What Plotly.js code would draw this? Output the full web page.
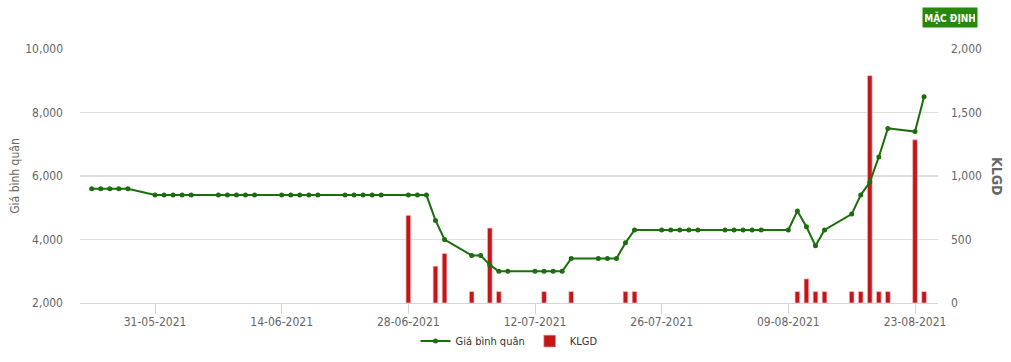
<!DOCTYPE html>
<html>
<head>
<meta charset="utf-8">
<script src="https://cdn.plot.ly/plotly-3.0.1.min.js"></script>
<style>
  html, body { margin: 0; padding: 0; background: #fff; }
  #chart { width: 1011px; height: 362px; }
</style>
</head>
<body>
<div id="chart"></div>
<script>
// ---- Data ----
const priceDates = [
  '2021-05-24','2021-05-25','2021-05-26','2021-05-27','2021-05-28',
  '2021-05-31','2021-06-01','2021-06-02','2021-06-03','2021-06-04',
  '2021-06-07','2021-06-08','2021-06-09','2021-06-10','2021-06-11',
  '2021-06-14','2021-06-15','2021-06-16','2021-06-17','2021-06-18',
  '2021-06-21','2021-06-22','2021-06-23','2021-06-24','2021-06-25',
  '2021-06-28','2021-06-29','2021-06-30','2021-07-01','2021-07-02',
  '2021-07-05','2021-07-06','2021-07-07','2021-07-08','2021-07-09',
  '2021-07-12','2021-07-13','2021-07-14','2021-07-15','2021-07-16',
  '2021-07-19','2021-07-20','2021-07-21','2021-07-22','2021-07-23',
  '2021-07-26','2021-07-27','2021-07-28','2021-07-29','2021-07-30',
  '2021-08-02','2021-08-03','2021-08-04','2021-08-05','2021-08-06',
  '2021-08-09','2021-08-10','2021-08-11','2021-08-12','2021-08-13',
  '2021-08-16','2021-08-17','2021-08-18','2021-08-19','2021-08-20',
  '2021-08-23','2021-08-24'
];
const priceValues = [
  5600,5600,5600,5600,5600,
  5400,5400,5400,5400,5400,
  5400,5400,5400,5400,5400,
  5400,5400,5400,5400,5400,
  5400,5400,5400,5400,5400,
  5400,5400,5400,4600,4000,
  3500,3500,3200,3000,3000,
  3000,3000,3000,3000,3400,
  3400,3400,3400,3900,4300,
  4300,4300,4300,4300,4300,
  4300,4300,4300,4300,4300,
  4300,4900,4400,3800,4300,
  4800,5400,5800,6600,7500,
  7400,8500
];
const volumeDates = [
  '2021-06-28','2021-07-01','2021-07-02','2021-07-05','2021-07-07','2021-07-08',
  '2021-07-13','2021-07-16','2021-07-22','2021-07-23',
  '2021-08-10','2021-08-11','2021-08-12','2021-08-13',
  '2021-08-16','2021-08-17','2021-08-18','2021-08-19','2021-08-20',
  '2021-08-23','2021-08-24'
];
const volumeValues = [
  690,290,390,90,590,90,
  90,90,90,90,
  90,190,90,90,
  90,90,1790,90,90,
  1285,90
];
const xTickVals = ['2021-05-31','2021-06-14','2021-06-28','2021-07-12','2021-07-26','2021-08-09','2021-08-23'];
const xTickText = ['31-05-2021','14-06-2021','28-06-2021','12-07-2021','26-07-2021','09-08-2021','23-08-2021'];
const priceTicks = [2000,4000,6000,8000,10000];
const volumeTicks = [0,500,1000,1500,2000];

const FONT = '"Liberation Sans Narrow", "DejaVu Sans Condensed", Roboto, sans-serif';
const GREY = '#666666';

const traces = [
  {
    type: 'bar',
    name: 'KLGD',
    x: volumeDates,
    y: volumeValues,
    yaxis: 'y',
    width: 0.52 * 86400000,
    marker: { color: '#c0171a', line: { color: 'rgba(255,190,190,0.7)', width: 1 } },
    legendrank: 2
  },
  {
    type: 'scatter',
    mode: 'lines+markers',
    name: 'Giá bình quân',
    x: priceDates,
    y: priceValues,
    yaxis: 'y2',
    line: { color: '#1a6e0c', width: 2 },
    marker: { color: '#1a6e0c', size: 5 },
    legendrank: 1
  }
];

const layout = {
  width: 1011,
  height: 362,
  margin: { l: 80, r: 73, t: 49, b: 59, autoexpand: false },
  paper_bgcolor: '#ffffff',
  plot_bgcolor: '#ffffff',
  font: { family: FONT, size: 12, color: GREY },
  showlegend: true,
  legend: {
    orientation: 'h',
    x: 0.5, xanchor: 'center',
    y: -0.15, yanchor: 'middle',
    bgcolor: 'rgba(0,0,0,0)',
    font: { family: FONT, size: 11, color: '#333333' },
    traceorder: 'normal'
  },
  bargap: 0,
  xaxis: {
    type: 'date',
    range: ['2021-05-22 17:00', '2021-08-25 13:00'],
    tickmode: 'array',
    tickvals: xTickVals,
    ticktext: xTickText,
    showgrid: false,
    zeroline: false,
    showline: true,
    linecolor: '#ccd6eb',
    linewidth: 1,
    ticks: 'outside',
    ticklen: 10,
    tickcolor: '#ccd6eb',
    ticklabelstandoff: -2,
    tickfont: { family: FONT, size: 12, color: GREY }
  },
  yaxis: {
    side: 'right',
    range: [0, 2000],
    tickmode: 'array',
    tickvals: volumeTicks,
    tickformat: ',d',
    showgrid: true,
    gridcolor: '#e0e0e0',
    gridwidth: 1.5,
    zeroline: false,
    showline: false,
    ticks: '',
    ticklabelstandoff: 12,
    tickfont: { family: FONT, size: 12, color: GREY },
    fixedrange: true
  },
  yaxis2: {
    overlaying: 'y',
    side: 'left',
    range: [2000, 10000],
    tickmode: 'array',
    tickvals: priceTicks,
    tickformat: ',d',
    showgrid: false,
    zeroline: false,
    showline: false,
    ticks: '',
    ticklabelstandoff: 16,
    tickfont: { family: FONT, size: 12, color: GREY },
    title: { text: 'Giá bình quân', font: { family: FONT, size: 12, color: GREY }, standoff: 3 }
  },
  annotations: [
    {
      xref: 'paper', yref: 'paper',
      x: (997 - 80) / 858, y: 0.5,
      text: '<b>KLGD</b>',
      textangle: 90,
      showarrow: false,
      font: { family: FONT, size: 14, color: GREY },
      xanchor: 'center', yanchor: 'middle'
    },
    {
      xref: 'paper', yref: 'paper',
      x: (950 - 80) / 858, y: 1 + (49 - 17) / 254,
      text: '<b>MẶC ĐỊNH</b>',
      showarrow: false,
      bgcolor: '#26880c',
      width: 50, height: 15,
      borderpad: 2,
      font: { family: FONT, size: 10, color: '#ffffff' },
      xanchor: 'center', yanchor: 'middle'
    }
  ]
};

Plotly.newPlot('chart', traces, layout, { displayModeBar: false, staticPlot: true });
</script>
</body>
</html>
